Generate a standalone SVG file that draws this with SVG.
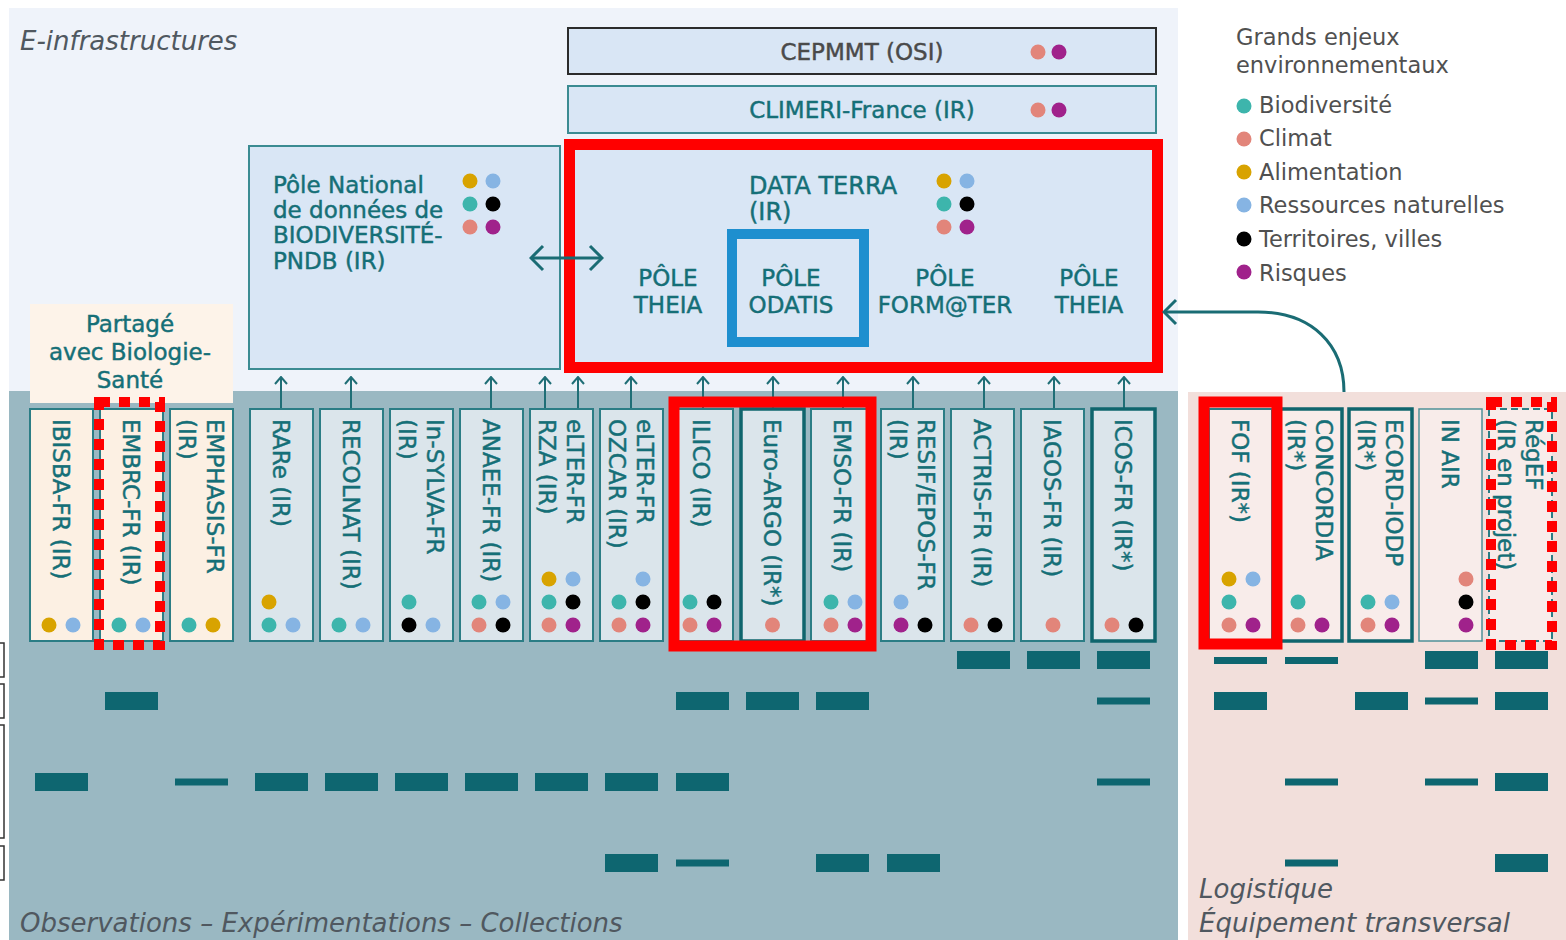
<svg xmlns="http://www.w3.org/2000/svg" width="1566" height="940" viewBox="0 0 1566 940">
<style>
text{font-family:"DejaVu Sans","Liberation Sans",sans-serif}
.t{fill:#156f77;font-size:23px;stroke:#156f77;stroke-width:0.45}
.g{fill:#4a4a4a;font-size:23px;stroke:#4a4a4a;stroke-width:0.45}
.lg{fill:#505050;font-size:22.5px}
.it{fill:#505860;font-size:26px;font-style:italic}
.box{fill:#d9e6f5;stroke:#3b8b92;stroke-width:2}
.col{fill:#dbe5eb;stroke:#2b7d85;stroke-width:2}
.beige{fill:#fcf0e3}
.pink{fill:#f8ecea}
.thick{stroke:#0f656d;stroke-width:3.5}
.thin{stroke:#4f9198;stroke-width:1.5}
.dash{stroke-dasharray:7 4}
.bar{fill:#0e6670}
.bio{fill:#3db5ac}.cli{fill:#e2857a}.ali{fill:#d8a300}.res{fill:#86b4e3}.ter{fill:#000}.ris{fill:#a0228b}
.red{fill:none;stroke:#ff0000;stroke-width:11}
.reddash{fill:none;stroke:#ff0000;stroke-width:10;stroke-dasharray:11 9}
.arr{stroke:#1f6e76;stroke-width:2;fill:none}
</style>
<defs>
<marker id="ah" viewBox="0 0 14 14" refX="13" refY="7" markerWidth="14" markerHeight="14" markerUnits="userSpaceOnUse" orient="auto">
<path d="M6,1 L13,7 L6,13" fill="none" stroke="#1f6e76" stroke-width="2"/>
</marker>
<marker id="ahb" viewBox="0 0 28 28" refX="26" refY="14" markerWidth="28" markerHeight="28" markerUnits="userSpaceOnUse" orient="auto-start-reverse">
<path d="M14,2 L26,14 L14,26" fill="none" stroke="#1a6c74" stroke-width="3"/>
</marker>
</defs>

<rect x="0" y="0" width="1566" height="940" fill="#ffffff"/>
<g id="panels">
<rect x="9" y="8" width="1169" height="384" fill="#eff3fa"/>
<rect x="9" y="391" width="1169" height="549" fill="#9ab8c2"/>
<rect x="1188" y="392" width="378" height="548" fill="#f2dfdb"/>
<rect x="-30" y="643" width="34" height="34" fill="#fff" stroke="#333" stroke-width="1.5"/>
<rect x="-30" y="684" width="34" height="34" fill="#fff" stroke="#333" stroke-width="1.5"/>
<rect x="-30" y="725" width="34" height="113" fill="#fff" stroke="#333" stroke-width="1.5"/>
<rect x="-30" y="846" width="34" height="34" fill="#fff" stroke="#333" stroke-width="1.5"/>
<text class="it" x="20" y="50">E-infrastructures</text>
<text class="it" x="20" y="932">Observations – Expérimentations – Collections</text>
<text class="it" x="1199" y="898">Logistique</text>
<text class="it" x="1199" y="932">Équipement transversal</text>
</g>

<g id="legend">
<text class="lg" x="1236" y="45">Grands enjeux</text>
<text class="lg" x="1236" y="73">environnementaux</text>
<circle class="bio" cx="1244" cy="106" r="7.5"/><text class="lg" x="1259" y="113">Biodiversité</text>
<circle class="cli" cx="1244" cy="139" r="7.5"/><text class="lg" x="1259" y="146">Climat</text>
<circle class="ali" cx="1244" cy="172" r="7.5"/><text class="lg" x="1259" y="180">Alimentation</text>
<circle class="res" cx="1244" cy="205" r="7.5"/><text class="lg" x="1259" y="213">Ressources naturelles</text>
<circle class="ter" cx="1244" cy="239" r="7.5"/><text class="lg" x="1259" y="247">Territoires, villes</text>
<circle class="ris" cx="1244" cy="272" r="7.5"/><text class="lg" x="1259" y="281">Risques</text>
</g>

<g id="cepmmt">
<rect x="568" y="28" width="588" height="46" fill="#d9e6f5" stroke="#2b2b2b" stroke-width="2"/>
<text class="g" x="862" y="60" text-anchor="middle">CEPMMT (OSI)</text>
<circle class="cli" cx="1038" cy="52" r="7.5"/><circle class="ris" cx="1059" cy="52" r="7.5"/>
</g>
<g id="climeri">
<rect class="box" x="568" y="86" width="588" height="47"/>
<text class="t" x="862" y="118" text-anchor="middle">CLIMERI-France (IR)</text>
<circle class="cli" cx="1038" cy="110" r="7.5"/><circle class="ris" cx="1059" cy="110" r="7.5"/>
</g>

<g id="pndb">
<rect class="box" x="249" y="146" width="311" height="223"/>
<text class="t" x="273" y="193">Pôle National</text>
<text class="t" x="273" y="218">de données de</text>
<text class="t" x="273" y="243">BIODIVERSITÉ-</text>
<text class="t" x="273" y="269">PNDB (IR)</text>
<circle class="ali" cx="470" cy="181" r="7.5"/><circle class="res" cx="493" cy="181" r="7.5"/>
<circle class="bio" cx="470" cy="204" r="7.5"/><circle class="ter" cx="493" cy="204" r="7.5"/>
<circle class="cli" cx="470" cy="227" r="7.5"/><circle class="ris" cx="493" cy="227" r="7.5"/>
</g>

<g id="dataterra">
<rect x="569.5" y="144.5" width="588" height="223" fill="#d9e6f5"/>
<text class="t" x="749" y="194" style="font-size:24px">DATA TERRA</text>
<text class="t" x="749" y="220" style="font-size:24px">(IR)</text>
<circle class="ali" cx="944" cy="181" r="7.5"/><circle class="res" cx="967" cy="181" r="7.5"/>
<circle class="bio" cx="944" cy="204" r="7.5"/><circle class="ter" cx="967" cy="204" r="7.5"/>
<circle class="cli" cx="944" cy="227" r="7.5"/><circle class="ris" cx="967" cy="227" r="7.5"/>
<text class="t" text-anchor="middle" x="668" y="286">PÔLE</text><text class="t" text-anchor="middle" x="668" y="313">THEIA</text>
<text class="t" text-anchor="middle" x="791" y="286">PÔLE</text><text class="t" text-anchor="middle" x="791" y="313">ODATIS</text>
<text class="t" text-anchor="middle" x="945" y="286">PÔLE</text><text class="t" text-anchor="middle" x="945" y="313">FORM@TER</text>
<text class="t" text-anchor="middle" x="1089" y="286">PÔLE</text><text class="t" text-anchor="middle" x="1089" y="313">THEIA</text>
<rect x="732" y="234" width="132" height="108" fill="none" stroke="#1e8fcf" stroke-width="10"/>
<rect class="red" x="569.5" y="144.5" width="588" height="223"/>
</g>

<g id="partage">
<rect x="30" y="304" width="203" height="99" fill="#fdf3e9"/>
<text class="t" x="130" y="332" text-anchor="middle">Partagé</text>
<text class="t" x="130" y="360" text-anchor="middle">avec Biologie-</text>
<text class="t" x="130" y="388" text-anchor="middle">Santé</text>
</g>

<g id="connectors">
<line class="arr" x1="281" y1="409" x2="281" y2="377" marker-end="url(#ah)"/>
<line class="arr" x1="351" y1="409" x2="351" y2="377" marker-end="url(#ah)"/>
<line class="arr" x1="491" y1="409" x2="491" y2="377" marker-end="url(#ah)"/>
<line class="arr" x1="545" y1="409" x2="545" y2="377" marker-end="url(#ah)"/>
<line class="arr" x1="578" y1="409" x2="578" y2="377" marker-end="url(#ah)"/>
<line class="arr" x1="631" y1="409" x2="631" y2="377" marker-end="url(#ah)"/>
<line class="arr" x1="703" y1="409" x2="703" y2="377" marker-end="url(#ah)"/>
<line class="arr" x1="773" y1="409" x2="773" y2="377" marker-end="url(#ah)"/>
<line class="arr" x1="843" y1="409" x2="843" y2="377" marker-end="url(#ah)"/>
<line class="arr" x1="913" y1="409" x2="913" y2="377" marker-end="url(#ah)"/>
<line class="arr" x1="984" y1="409" x2="984" y2="377" marker-end="url(#ah)"/>
<line class="arr" x1="1054" y1="409" x2="1054" y2="377" marker-end="url(#ah)"/>
<line class="arr" x1="1124" y1="409" x2="1124" y2="377" marker-end="url(#ah)"/>
<line x1="531" y1="258" x2="602" y2="258" stroke="#1a6c74" stroke-width="3" marker-start="url(#ahb)" marker-end="url(#ahb)"/>
<path d="M1344,392 C1344,345 1312,312 1258,312 L1164,312" fill="none" stroke="#1a6c74" stroke-width="3" marker-end="url(#ahb)"/>
</g>

<g id="col-ibisba">
<rect class="col beige" x="30" y="409" width="63" height="232"/>
<text class="t" transform="translate(53.1,419) rotate(90)">IBISBA-FR (IR)</text>
<circle class="ali" cx="49" cy="625" r="7.5"/><circle class="res" cx="73" cy="625" r="7.5"/>
<rect class="bar" x="35" y="773" width="53" height="18"/>
</g>
<g id="col-embrc">
<rect class="col beige" x="100" y="409" width="63" height="232"/>
<text class="t" transform="translate(123.1,419) rotate(90)">EMBRC-FR (IR)</text>
<circle class="bio" cx="119" cy="625" r="7.5"/><circle class="res" cx="143" cy="625" r="7.5"/>
<rect class="bar" x="105" y="692" width="53" height="18"/>
</g>
<g id="col-emphasis">
<rect class="col beige" x="170" y="409" width="63" height="232"/>
<text class="t" transform="translate(207.1,419) rotate(90)">EMPHASIS-FR<tspan x="0" dy="28">(IR)</tspan></text>
<circle class="bio" cx="189" cy="625" r="7.5"/><circle class="ali" cx="213" cy="625" r="7.5"/>
<rect class="bar" x="175" y="778.5" width="53" height="7"/>
</g>
<g id="col-rare">
<rect class="col" x="250" y="409" width="63" height="232"/>
<text class="t" transform="translate(273.1,419) rotate(90)">RARe (IR)</text>
<circle class="ali" cx="269" cy="602" r="7.5"/>
<circle class="bio" cx="269" cy="625" r="7.5"/><circle class="res" cx="293" cy="625" r="7.5"/>
<rect class="bar" x="255" y="773" width="53" height="18"/>
</g>
<g id="col-recolnat">
<rect class="col" x="320" y="409" width="63" height="232"/>
<text class="t" transform="translate(343.1,419) rotate(90)">RECOLNAT (IR)</text>
<circle class="bio" cx="339" cy="625" r="7.5"/><circle class="res" cx="363" cy="625" r="7.5"/>
<rect class="bar" x="325" y="773" width="53" height="18"/>
</g>
<g id="col-insylva">
<rect class="col" x="390" y="409" width="63" height="232"/>
<text class="t" transform="translate(427.1,419) rotate(90)">In-SYLVA-FR<tspan x="0" dy="28">(IR)</tspan></text>
<circle class="bio" cx="409" cy="602" r="7.5"/>
<circle class="ter" cx="409" cy="625" r="7.5"/><circle class="res" cx="433" cy="625" r="7.5"/>
<rect class="bar" x="395" y="773" width="53" height="18"/>
</g>
<g id="col-anaee">
<rect class="col" x="460" y="409" width="63" height="232"/>
<text class="t" transform="translate(483.1,419) rotate(90)">ANAEE-FR (IR)</text>
<circle class="bio" cx="479" cy="602" r="7.5"/><circle class="res" cx="503" cy="602" r="7.5"/>
<circle class="cli" cx="479" cy="625" r="7.5"/><circle class="ter" cx="503" cy="625" r="7.5"/>
<rect class="bar" x="465" y="773" width="53" height="18"/>
</g>
<g id="col-rza">
<rect class="col" x="530" y="409" width="63" height="232"/>
<text class="t" transform="translate(567.1,419) rotate(90)">eLTER-FR<tspan x="0" dy="28">RZA (IR)</tspan></text>
<circle class="ali" cx="549" cy="579" r="7.5"/><circle class="res" cx="573" cy="579" r="7.5"/>
<circle class="bio" cx="549" cy="602" r="7.5"/><circle class="ter" cx="573" cy="602" r="7.5"/>
<circle class="cli" cx="549" cy="625" r="7.5"/><circle class="ris" cx="573" cy="625" r="7.5"/>
<rect class="bar" x="535" y="773" width="53" height="18"/>
</g>
<g id="col-ozcar">
<rect class="col" x="600" y="409" width="63" height="232"/>
<text class="t" transform="translate(637.1,419) rotate(90)">eLTER-FR<tspan x="0" dy="28">OZCAR (IR)</tspan></text>
<circle class="res" cx="643" cy="579" r="7.5"/>
<circle class="bio" cx="619" cy="602" r="7.5"/><circle class="ter" cx="643" cy="602" r="7.5"/>
<circle class="cli" cx="619" cy="625" r="7.5"/><circle class="ris" cx="643" cy="625" r="7.5"/>
<rect class="bar" x="605" y="773" width="53" height="18"/>
<rect class="bar" x="605" y="854" width="53" height="18"/>
</g>
<g id="col-ilico">
<rect class="col" x="670" y="409" width="63" height="232"/>
<text class="t" transform="translate(693.1,419) rotate(90)">ILICO (IR)</text>
<circle class="bio" cx="690" cy="602" r="7.5"/><circle class="ter" cx="714" cy="602" r="7.5"/>
<circle class="cli" cx="690" cy="625" r="7.5"/><circle class="ris" cx="714" cy="625" r="7.5"/>
<rect class="bar" x="676" y="692" width="53" height="18"/>
<rect class="bar" x="676" y="773" width="53" height="18"/>
<rect class="bar" x="676" y="859.5" width="53" height="7"/>
</g>
<g id="col-euroargo">
<rect class="col thick" x="741" y="409" width="63" height="232"/>
<text class="t" transform="translate(764.1,419) rotate(90)">Euro-ARGO (IR*)</text>
<circle class="cli" cx="772.5" cy="625" r="7.5"/>
<rect class="bar" x="746" y="692" width="53" height="18"/>
</g>
<g id="col-emso">
<rect class="col" x="811" y="409" width="63" height="232"/>
<text class="t" transform="translate(834.1,419) rotate(90)">EMSO-FR (IR)</text>
<circle class="bio" cx="831" cy="602" r="7.5"/><circle class="res" cx="855" cy="602" r="7.5"/>
<circle class="cli" cx="831" cy="625" r="7.5"/><circle class="ris" cx="855" cy="625" r="7.5"/>
<rect class="bar" x="816" y="692" width="53" height="18"/>
<rect class="bar" x="816" y="854" width="53" height="18"/>
</g>
<g id="col-resif">
<rect class="col" x="881" y="409" width="63" height="232"/>
<text class="t" transform="translate(918.1,419) rotate(90)">RESIF/EPOS-FR<tspan x="0" dy="28">(IR)</tspan></text>
<circle class="res" cx="901" cy="602" r="7.5"/>
<circle class="ris" cx="901" cy="625" r="7.5"/><circle class="ter" cx="925" cy="625" r="7.5"/>
<rect class="bar" x="887" y="854" width="53" height="18"/>
</g>
<g id="col-actris">
<rect class="col" x="951" y="409" width="63" height="232"/>
<text class="t" transform="translate(974.1,419) rotate(90)">ACTRIS-FR (IR)</text>
<circle class="cli" cx="971" cy="625" r="7.5"/><circle class="ter" cx="995" cy="625" r="7.5"/>
<rect class="bar" x="957" y="651" width="53" height="18"/>
</g>
<g id="col-iagos">
<rect class="col" x="1021" y="409" width="63" height="232"/>
<text class="t" transform="translate(1044.1,419) rotate(90)">IAGOS-FR (IR)</text>
<circle class="cli" cx="1053" cy="625" r="7.5"/>
<rect class="bar" x="1027" y="651" width="53" height="18"/>
</g>
<g id="col-icos">
<rect class="col thick" x="1092" y="409" width="63" height="232"/>
<text class="t" transform="translate(1115.1,419) rotate(90)">ICOS-FR (IR*)</text>
<circle class="cli" cx="1112" cy="625" r="7.5"/><circle class="ter" cx="1136" cy="625" r="7.5"/>
<rect class="bar" x="1097" y="651" width="53" height="18"/>
<rect class="bar" x="1097" y="697.5" width="53" height="7"/>
<rect class="bar" x="1097" y="778.5" width="53" height="7"/>
</g>

<g id="col-fof">
<rect class="col pink" x="1209" y="409" width="63" height="232"/>
<text class="t" transform="translate(1232.1,419) rotate(90)">FOF (IR*)</text>
<circle class="ali" cx="1229" cy="579" r="7.5"/><circle class="res" cx="1253" cy="579" r="7.5"/>
<circle class="bio" cx="1229" cy="602" r="7.5"/>
<circle class="cli" cx="1229" cy="625" r="7.5"/><circle class="ris" cx="1253" cy="625" r="7.5"/>
<rect class="bar" x="1214" y="657" width="53" height="7"/>
<rect class="bar" x="1214" y="692" width="53" height="18"/>
</g>
<g id="col-concordia">
<rect class="col pink thick" x="1279" y="409" width="63" height="232"/>
<text class="t" transform="translate(1316.1,419) rotate(90)">CONCORDIA<tspan x="0" dy="28">(IR*)</tspan></text>
<circle class="bio" cx="1298" cy="602" r="7.5"/>
<circle class="cli" cx="1298" cy="625" r="7.5"/><circle class="ris" cx="1322" cy="625" r="7.5"/>
<rect class="bar" x="1285" y="657" width="53" height="7"/>
<rect class="bar" x="1285" y="778.5" width="53" height="7"/>
<rect class="bar" x="1285" y="859.5" width="53" height="7"/>
</g>
<g id="col-ecord">
<rect class="col pink thick" x="1349" y="409" width="63" height="232"/>
<text class="t" transform="translate(1386.1,419) rotate(90)">ECORD-IODP<tspan x="0" dy="28">(IR*)</tspan></text>
<circle class="bio" cx="1368" cy="602" r="7.5"/><circle class="res" cx="1392" cy="602" r="7.5"/>
<circle class="cli" cx="1368" cy="625" r="7.5"/><circle class="ris" cx="1392" cy="625" r="7.5"/>
<rect class="bar" x="1355" y="692" width="53" height="18"/>
</g>
<g id="col-inair">
<rect class="col pink thin" x="1419" y="409" width="63" height="232"/>
<text class="t" transform="translate(1442.1,419) rotate(90)">IN AIR</text>
<circle class="cli" cx="1466" cy="579" r="7.5"/>
<circle class="ter" cx="1466" cy="602" r="7.5"/>
<circle class="ris" cx="1466" cy="625" r="7.5"/>
<rect class="bar" x="1425" y="651" width="53" height="18"/>
<rect class="bar" x="1425" y="697.5" width="53" height="7"/>
<rect class="bar" x="1425" y="778.5" width="53" height="7"/>
</g>
<g id="col-regef">
<rect class="col pink dash" x="1489" y="409" width="63" height="232"/>
<text class="t" transform="translate(1526.1,419) rotate(90)">RégEF<tspan x="0" dy="28">(IR en projet)</tspan></text>
<rect class="bar" x="1495" y="651" width="53" height="18"/>
<rect class="bar" x="1495" y="692" width="53" height="18"/>
<rect class="bar" x="1495" y="773" width="53" height="18"/>
<rect class="bar" x="1495" y="854" width="53" height="18"/>
</g>

<g id="highlights">
<rect class="reddash" x="99" y="402" width="61" height="243"/>
<rect class="red" x="674" y="402" width="197" height="244"/>
<rect class="red" x="1204" y="402" width="73" height="242"/>
<rect class="reddash" x="1491" y="402" width="61" height="243"/>
</g>
</svg>
